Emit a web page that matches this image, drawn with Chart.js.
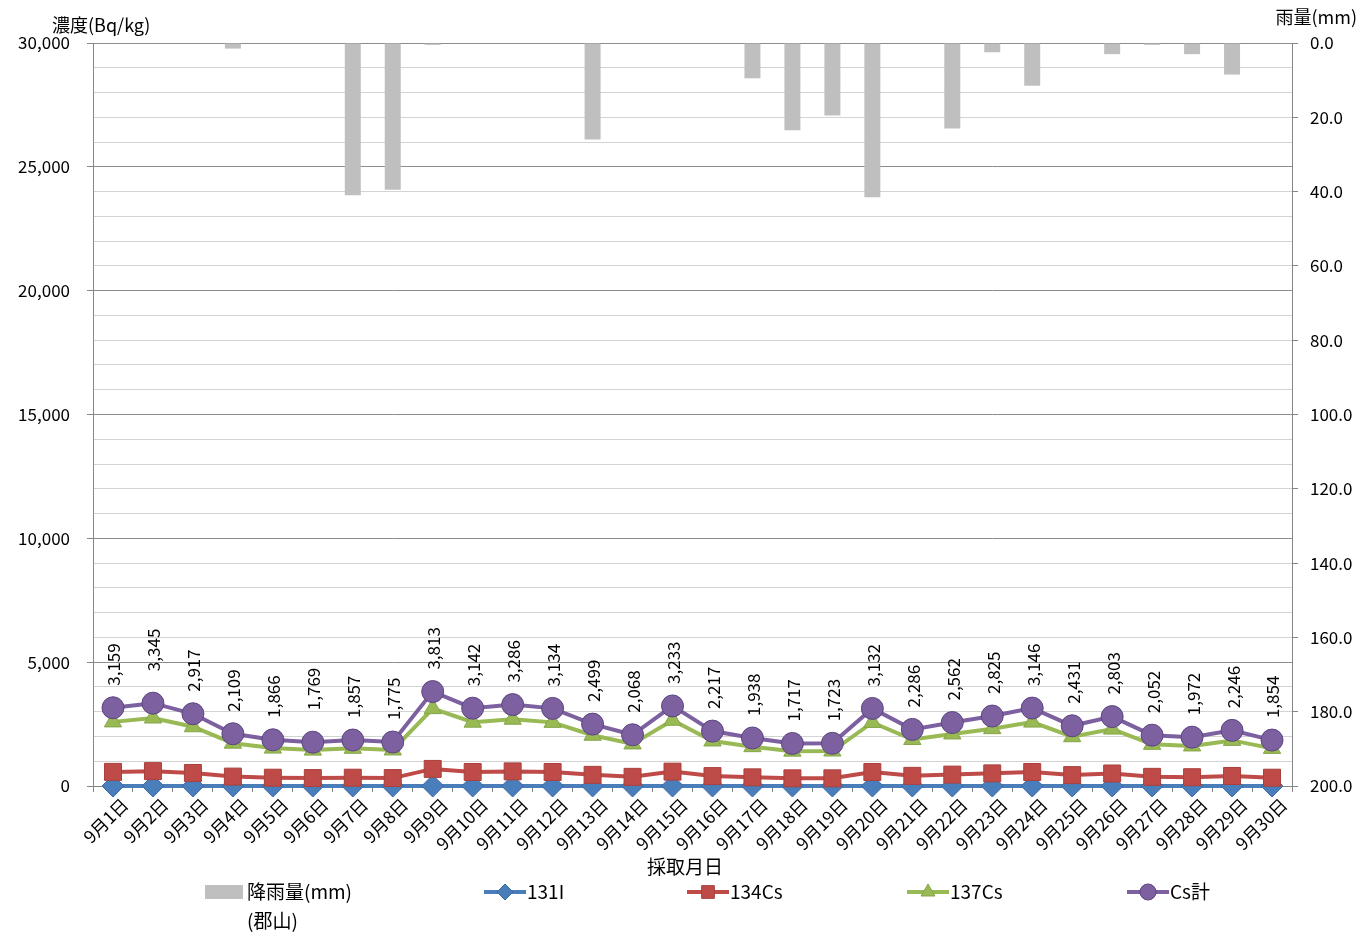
<!DOCTYPE html>
<html>
<head>
<meta charset="utf-8">
<script src="https://cdn.jsdelivr.net/npm/chart.js@4/dist/chart.umd.min.js"></script>
<style>
  html, body { margin: 0; padding: 0; background: #fff; }
</style>
</head>
<body>
<canvas id="chart" width="1360" height="933"></canvas>
<script>
// ---- data ----
const days = [
  '9月1日', '9月2日', '9月3日', '9月4日', '9月5日', '9月6日', '9月7日', '9月8日', '9月9日', '9月10日',
  '9月11日', '9月12日', '9月13日', '9月14日', '9月15日', '9月16日', '9月17日', '9月18日', '9月19日', '9月20日',
  '9月21日', '9月22日', '9月23日', '9月24日', '9月25日', '9月26日', '9月27日', '9月28日', '9月29日', '9月30日',
];
const rainMm = [
  0, 0, 0, 1.5, 0, 0, 41, 39.5, 0.5, 0,
  0, 0, 26, 0, 0, 0, 9.5, 23.5, 19.5, 41.5,
  0, 23, 2.5, 11.5, 0, 3, 0.5, 3, 8.5, 0,
];
const i131 = [
  0, 0, 0, 0, 0, 0, 0, 0, 0, 0,
  0, 0, 0, 0, 0, 0, 0, 0, 0, 0,
  0, 0, 0, 0, 0, 0, 0, 0, 0, 0,
];
const cs134 = [
  570, 600, 525, 380, 335, 320, 335, 320, 690, 565,
  590, 565, 450, 370, 580, 400, 350, 310, 310, 565,
  410, 460, 510, 565, 440, 505, 370, 355, 405, 335,
];
const cs137 = [
  2589, 2745, 2392, 1729, 1531, 1449, 1522, 1455, 3123, 2577,
  2696, 2569, 2049, 1698, 2653, 1817, 1588, 1407, 1413, 2567,
  1876, 2102, 2315, 2581, 1991, 2298, 1682, 1617, 1841, 1519,
];
const csTotal = [
  3159, 3345, 2917, 2109, 1866, 1769, 1857, 1775, 3813, 3142,
  3286, 3134, 2499, 2068, 3233, 2217, 1938, 1717, 1723, 3132,
  2286, 2562, 2825, 3146, 2431, 2803, 2052, 1972, 2246, 1854,
];
const leftMax = 30000;
const leftStep = 1000;
const leftMajor = 5000;
const rightMax = 200;
const rightStep = 20;

// ---- style ----
const FONT = "'Noto Sans CJK JP', 'Noto Sans', sans-serif";
const AXIS_GREY = '#868686';
const COLORS = {
  rain: '#bfbfbf',
  i131: '#4a7ebb',
  cs134: '#be4b48',
  cs137: '#98b954',
  total: '#7d60a0',
};
// a couple of labels sit a little higher in the reference to avoid overlap
const LABEL_NUDGE = { 1: 10, 5: 10 };

Chart.defaults.font.family = FONT;
Chart.defaults.color = '#000';

const totalLabelsPlugin = {
  id: 'totalLabels',
  afterDatasetsDraw(chart) {
    const meta = chart.getDatasetMeta(4);
    const { ctx } = chart;
    ctx.save();
    ctx.fillStyle = '#000';
    ctx.font = `17px ${FONT}`;
    ctx.textAlign = 'left';
    ctx.textBaseline = 'middle';
    meta.data.forEach((pt, i) => {
      ctx.save();
      ctx.translate(pt.x, pt.y - 22 - (LABEL_NUDGE[i] || 0));
      ctx.rotate(-Math.PI / 2);
      ctx.fillText(csTotal[i].toLocaleString('en-US'), 0, 1);
      ctx.restore();
    });
    ctx.restore();
  },
};

function legendMarker(ctx, ds, x, y) {
  ctx.save();
  ctx.strokeStyle = ds.borderColor;
  ctx.lineWidth = 4;
  ctx.beginPath();
  ctx.moveTo(x - 21, y);
  ctx.lineTo(x + 21, y);
  ctx.stroke();
  ctx.fillStyle = ds.pointBackgroundColor;
  ctx.strokeStyle = ds.pointBorderColor;
  ctx.lineWidth = 1;
  Chart.helpers.drawPoint(ctx, { pointStyle: ds.pointStyle, radius: ds.legendRadius, borderWidth: 1, rotation: 0 }, x, y);
  ctx.restore();
}

const decorPlugin = {
  id: 'decor',
  afterDraw(chart) {
    const { ctx } = chart;
    const ds = chart.data.datasets;
    ctx.save();
    ctx.fillStyle = '#000';
    ctx.textBaseline = 'middle';

    // axis titles
    ctx.font = `18px ${FONT}`;
    ctx.textAlign = 'left';
    ctx.fillText('濃度(Bq/kg)', 52, 25);
    ctx.textAlign = 'right';
    ctx.fillText('雨量(mm)', 1357, 17);
    ctx.font = `19px ${FONT}`;
    ctx.textAlign = 'center';
    ctx.fillText('採取月日', 685, 867);

    // legend
    ctx.font = `19px ${FONT}`;
    ctx.textAlign = 'left';
    ctx.fillStyle = COLORS.rain;
    ctx.fillRect(205, 885, 38, 14);
    ctx.fillStyle = '#000';
    ctx.fillText('降雨量(mm)', 247, 892);
    ctx.fillText('(郡山)', 247, 921);

    const items = [
      { ds: ds[1], x: 505, label: '131I' },
      { ds: ds[2], x: 708, label: '134Cs' },
      { ds: ds[3], x: 928, label: '137Cs' },
      { ds: ds[4], x: 1148, label: 'Cs計' },
    ];
    items.forEach((it) => {
      legendMarker(ctx, it.ds, it.x, 892);
      ctx.fillStyle = '#000';
      ctx.fillText(it.label, it.x + 22, 892);
    });
    ctx.restore();
  },
};

function lineSet(label, data, color, border, style, radius, legendRadius, order) {
  return {
    type: 'line',
    label,
    data,
    yAxisID: 'y',
    borderColor: color,
    borderWidth: 4,
    pointStyle: style,
    pointRadius: radius,
    pointHoverRadius: radius,
    legendRadius,
    pointBackgroundColor: color,
    pointBorderColor: border,
    pointBorderWidth: 1,
    tension: 0,
    clip: false,
    order,
  };
}

new Chart(document.getElementById('chart'), {
  data: {
    labels: days,
    datasets: [
      {
        type: 'bar',
        label: '降雨量(mm)(郡山)',
        data: rainMm,
        yAxisID: 'y2',
        backgroundColor: COLORS.rain,
        categoryPercentage: 1,
        barPercentage: 0.4,
        order: 5,
      },
      lineSet('131I', i131, COLORS.i131, '#3d6aa3', 'rectRot', 11, 8, 4),
      lineSet('134Cs', cs134, COLORS.cs134, '#a9403d', 'rect', 12, 9, 3),
      lineSet('137Cs', cs137, COLORS.cs137, '#86a648', 'triangle', 10, 8, 2),
      lineSet('Cs計', csTotal, COLORS.total, '#5c4680', 'circle', 11, 8, 1),
    ],
  },
  plugins: [totalLabelsPlugin, decorPlugin],
  options: {
    responsive: false,
    animation: false,
    layout: { padding: { top: 43 } },
    plugins: {
      legend: { display: false },
      tooltip: { enabled: false },
    },
    scales: {
      x: {
        type: 'category',
        offset: true,
        grid: { drawOnChartArea: false, offset: true, tickLength: 6, color: AXIS_GREY },
        border: { color: AXIS_GREY },
        ticks: { autoSkip: false, minRotation: 45, maxRotation: 45, font: { size: 17.5 }, padding: 2, labelOffset: 12 },
        afterFit: (s) => { s.height = 147; },
      },
      y: {
        position: 'left',
        min: 0,
        max: leftMax,
        afterBuildTicks: (s) => {
          const ticks = [];
          for (let v = 0; v <= leftMax; v += leftStep) ticks.push({ value: v });
          s.ticks = ticks;
        },
        ticks: {
          font: { size: 17 },
          padding: 17,
          callback: (v) => (v % leftMajor === 0 ? v.toLocaleString('en-US') : ''),
        },
        grid: {
          tickLength: 6,
          color: (c) => (c.tick && c.tick.value % leftMajor === 0 ? '#8c8c8c' : '#d3d3d3'),
          tickColor: (c) => (c.tick && c.tick.value % leftMajor === 0 ? AXIS_GREY : 'rgba(0,0,0,0)'),
        },
        border: { color: AXIS_GREY },
        afterFit: (s) => { s.width = 93; },
      },
      y2: {
        position: 'right',
        reverse: true,
        min: 0,
        max: rightMax,
        ticks: {
          stepSize: rightStep,
          font: { size: 17 },
          padding: 12,
          callback: (v) => v.toFixed(1),
        },
        grid: { drawOnChartArea: false, tickLength: 6, tickColor: AXIS_GREY },
        border: { color: AXIS_GREY },
        afterFit: (s) => { s.width = 68; },
      },
    },
  },
});
</script>
</body>
</html>
